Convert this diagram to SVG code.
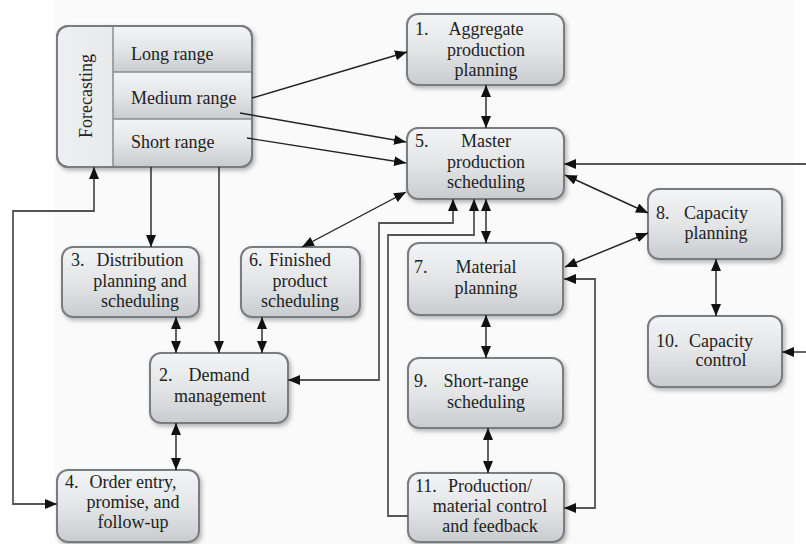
<svg xmlns="http://www.w3.org/2000/svg" width="806" height="544" viewBox="0 0 806 544">
<defs>
<linearGradient id="gBox" x1="0" y1="0" x2="0" y2="1">
<stop offset="0" stop-color="#f3f4f5"/>
<stop offset="0.5" stop-color="#e3e5e7"/>
<stop offset="1" stop-color="#c9ccce"/>
</linearGradient>
<linearGradient id="gCol" x1="0" y1="0" x2="1" y2="0">
<stop offset="0" stop-color="#eeeff0"/>
<stop offset="0.6" stop-color="#e2e4e6"/>
<stop offset="1" stop-color="#c9ccce"/>
</linearGradient>
<filter id="sh" x="-10%" y="-10%" width="125%" height="130%">
<feDropShadow dx="2" dy="2.5" stdDeviation="2" flood-color="#000" flood-opacity="0.28"/>
</filter>
<marker id="ah" viewBox="0 0 12 10" refX="12" refY="5" markerWidth="12" markerHeight="10" markerUnits="userSpaceOnUse" orient="auto-start-reverse">
<path d="M0,0 L12,5 L0,10 Z" fill="#111"/>
</marker>
<style>
.box{fill:url(#gBox);stroke:#7a7d80;stroke-width:2;filter:url(#sh)}
.t{font-family:"Liberation Serif","Times New Roman",serif;font-size:18px;fill:#222}
.c{text-anchor:middle}
.ln{fill:none;stroke:#222;stroke-width:1.4}
.pl{fill:none;stroke:#555;stroke-width:1.8}
.div{stroke:#8a8d90;stroke-width:1.5;fill:none}
</style>
</defs>
<rect x="0" y="0" width="806" height="544" fill="#ffffff"/>
<rect x="55" y="0" width="738" height="544" fill="#fafafa"/>

<g id="forecasting">
<rect x="57" y="26" width="195" height="141" rx="11" fill="url(#gCol)" stroke="#7a7d80" stroke-width="2" filter="url(#sh)"/>
<path d="M113,27 H241 A10,10 0 0 1 251,37 V72 H113 Z" fill="url(#gBox)"/>
<rect x="113" y="72" width="138" height="47" fill="url(#gBox)"/>
<path d="M113,119 H251 V156 A10,10 0 0 1 241,166 H113 Z" fill="url(#gBox)"/>
<rect x="57" y="26" width="195" height="141" rx="11" fill="none" stroke="#7a7d80" stroke-width="2"/>
<line class="div" x1="113" y1="27" x2="113" y2="166"/>
<line class="div" x1="113" y1="72" x2="251" y2="72"/>
<line class="div" x1="113" y1="119" x2="251" y2="119"/>
<text class="t c" transform="translate(92,96) rotate(-90)">Forecasting</text>
<text class="t" x="131" y="60">Long range</text>
<text class="t" x="131" y="104">Medium range</text>
<text class="t" x="131" y="148">Short range</text>
</g>

<g id="n1">
<rect class="box" x="407" y="14" width="157" height="71" rx="11"/>
<text class="t" x="415" y="35">1.</text>
<text class="t c" x="486" y="35">Aggregate</text>
<text class="t c" x="486" y="56">production</text>
<text class="t c" x="486" y="76">planning</text>
</g>

<g id="n5">
<rect class="box" x="407" y="128" width="157" height="71" rx="11"/>
<text class="t" x="415" y="147">5.</text>
<text class="t c" x="486" y="147">Master</text>
<text class="t c" x="486" y="168">production</text>
<text class="t c" x="486" y="188">scheduling</text>
</g>

<g id="n7">
<rect class="box" x="408" y="243" width="155" height="72" rx="11"/>
<text class="t" x="414" y="273">7.</text>
<text class="t c" x="486" y="273">Material</text>
<text class="t c" x="486" y="294">planning</text>
</g>

<g id="n9">
<rect class="box" x="408" y="358" width="155" height="70" rx="11"/>
<text class="t" x="414" y="387">9.</text>
<text class="t c" x="486" y="387">Short-range</text>
<text class="t c" x="486" y="408">scheduling</text>
</g>

<g id="n11">
<rect class="box" x="408" y="473" width="156" height="69" rx="11"/>
<text class="t" x="415" y="492">11.</text>
<text class="t c" x="490" y="492">Production/</text>
<text class="t c" x="490" y="512">material control</text>
<text class="t c" x="490" y="532">and feedback</text>
</g>

<g id="n8">
<rect class="box" x="648" y="189" width="134" height="70" rx="11"/>
<text class="t" x="656" y="219">8.</text>
<text class="t c" x="716" y="219">Capacity</text>
<text class="t c" x="716" y="239">planning</text>
</g>

<g id="n10">
<rect class="box" x="648" y="316" width="134" height="71" rx="11"/>
<text class="t" x="656" y="347">10.</text>
<text class="t c" x="721" y="347">Capacity</text>
<text class="t c" x="721" y="366">control</text>
</g>

<g id="n3">
<rect class="box" x="62" y="247" width="137" height="70" rx="11"/>
<text class="t" x="71" y="266">3.</text>
<text class="t c" x="140" y="266">Distribution</text>
<text class="t c" x="140" y="287">planning and</text>
<text class="t c" x="140" y="307">scheduling</text>
</g>

<g id="n6">
<rect class="box" x="241" y="247" width="119" height="70" rx="11"/>
<text class="t" x="249" y="266">6.</text>
<text class="t c" x="300" y="266">Finished</text>
<text class="t c" x="300" y="287">product</text>
<text class="t c" x="300" y="307">scheduling</text>
</g>

<g id="n2">
<rect class="box" x="150" y="353" width="138" height="70" rx="11"/>
<text class="t" x="159" y="381">2.</text>
<text class="t c" x="219" y="381">Demand</text>
<text class="t c" x="220" y="402">management</text>
</g>

<g id="n4">
<rect class="box" x="57" y="470" width="142" height="72" rx="11"/>
<text class="t" x="65" y="488">4.</text>
<text class="t c" x="133" y="488">Order entry,</text>
<text class="t c" x="133" y="508">promise, and</text>
<text class="t c" x="133" y="528">follow-up</text>
</g>

<g id="connectors">
<line class="ln" x1="252" y1="98" x2="407" y2="52" marker-end="url(#ah)"/>
<line class="ln" x1="240" y1="113" x2="406" y2="142" marker-end="url(#ah)"/>
<line class="ln" x1="247" y1="138" x2="406" y2="163" marker-end="url(#ah)"/>
<line class="ln" x1="151" y1="167" x2="151" y2="247" marker-end="url(#ah)"/>
<line class="ln" x1="219" y1="167" x2="219" y2="353" marker-end="url(#ah)"/>
<line class="ln" x1="176" y1="317" x2="176" y2="353" marker-start="url(#ah)" marker-end="url(#ah)"/>
<line class="ln" x1="262" y1="317" x2="262" y2="353" marker-start="url(#ah)" marker-end="url(#ah)"/>
<line class="ln" x1="176" y1="423" x2="176" y2="470" marker-start="url(#ah)" marker-end="url(#ah)"/>
<line class="ln" x1="302" y1="247" x2="406" y2="192" marker-start="url(#ah)" marker-end="url(#ah)"/>
<polyline class="pl" points="288,380 379,380 379,223 453,223 453,199" marker-start="url(#ah)" marker-end="url(#ah)"/>
<polyline class="pl" points="408,516 388,516 388,235 474,235 474,199" marker-end="url(#ah)"/>
<line class="ln" x1="486" y1="85" x2="486" y2="128" marker-start="url(#ah)" marker-end="url(#ah)"/>
<line class="ln" x1="486" y1="199" x2="486" y2="243" marker-start="url(#ah)" marker-end="url(#ah)"/>
<line class="ln" x1="486" y1="315" x2="486" y2="358" marker-start="url(#ah)" marker-end="url(#ah)"/>
<line class="ln" x1="488" y1="428" x2="488" y2="473" marker-start="url(#ah)" marker-end="url(#ah)"/>
<polyline class="pl" points="564,279 595,279 595,508 564,508" marker-start="url(#ah)" marker-end="url(#ah)"/>
<line class="pl" x1="806" y1="164" x2="564" y2="164" marker-end="url(#ah)"/>
<line class="ln" x1="565" y1="175" x2="648" y2="213" marker-start="url(#ah)" marker-end="url(#ah)"/>
<line class="ln" x1="565" y1="267" x2="648" y2="233" marker-start="url(#ah)" marker-end="url(#ah)"/>
<line class="ln" x1="716" y1="259" x2="716" y2="316" marker-start="url(#ah)" marker-end="url(#ah)"/>
<line class="pl" x1="806" y1="352" x2="782" y2="352" marker-end="url(#ah)"/>
<polyline class="pl" points="57,504 13,504 13,211 94,211 94,167" marker-start="url(#ah)" marker-end="url(#ah)"/>
</g>
</svg>
